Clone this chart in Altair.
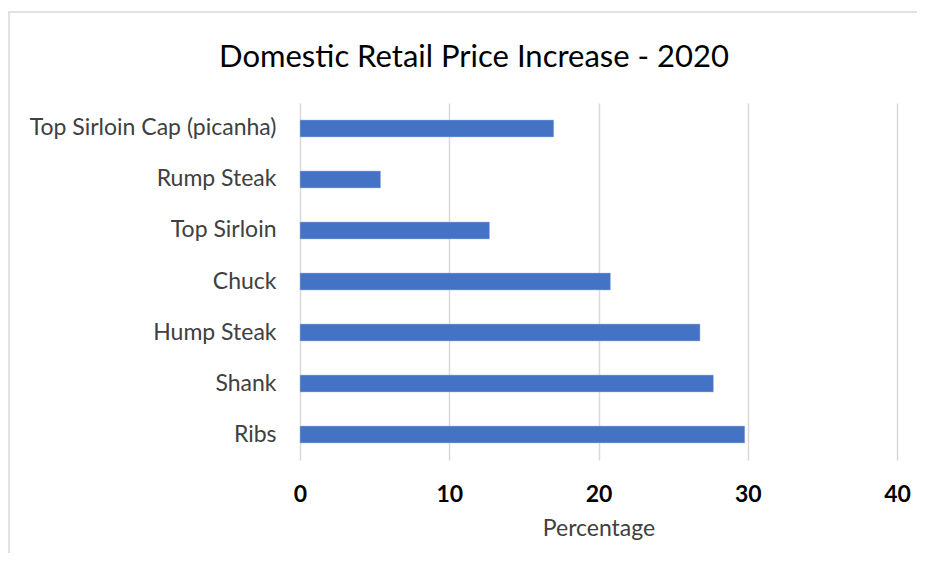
import altair as alt
import pandas as pd

cuts = ["Top Sirloin Cap (picanha)", "Rump Steak", "Top Sirloin", "Chuck",
        "Hump Steak", "Shank", "Ribs"]
increase = [17.0, 5.4, 12.7, 20.8, 26.8, 27.7, 29.8]
x_ticks = [0, 10, 20, 30, 40]
chart_title = "Domestic Retail Price Increase - 2020"

df = pd.DataFrame({"cut": cuts, "pct": increase})
one = pd.DataFrame({"t": [chart_title]})

FONT = "Lato"
TXT = "#404040"

bars = alt.Chart(df).mark_bar(color="#4472C4", stroke="#A9BEE6", strokeWidth=0.5).encode(
    y=alt.Y("cut:N", sort=cuts, title=None,
            scale=alt.Scale(paddingInner=0.667, paddingOuter=0.333),
            axis=alt.Axis(domain=False, ticks=False, grid=False, labelPadding=24,
                          labelFont=FONT, labelFontSize=23, labelColor=TXT,
                          labelLimit=400)),
    x=alt.X("pct:Q", title="Percentage",
            scale=alt.Scale(domain=[0, 40], nice=False),
            axis=alt.Axis(values=x_ticks, domain=False, ticks=False, grid=True,
                          gridColor="#d9d9d9", gridWidth=1.5,
                          labelFlush=False,
                          labelPadding=23, labelFont=FONT, labelFontSize=23,
                          labelFontWeight="bold", labelColor="#000000",
                          titleFont=FONT, titleFontSize=23, titleFontWeight="normal",
                          titleColor=TXT, titlePadding=11)),
)

frame_top = alt.Chart(one).mark_rule(color="#d9d9d9", strokeWidth=1.5).encode(
    x=alt.value(-292), x2=alt.value(617), y=alt.value(-91))
frame_left = alt.Chart(one).mark_rule(color="#d9d9d9", strokeWidth=1.5).encode(
    x=alt.value(-291), y=alt.value(-91), y2=alt.value(450))

title_text = alt.Chart(one).mark_text(font=FONT, fontSize=31, fontWeight="normal",
                                      color="#000000", align="center",
                                      baseline="alphabetic").encode(
    x=alt.value(174), y=alt.value(-36), text="t:N")

chart = alt.layer(frame_top, frame_left, bars, title_text).properties(
    width=597, height=357,
    background="white",
    autosize=alt.AutoSizeParams(type="none"),
    padding={"left": 292, "top": 95, "right": 20, "bottom": 93},
).configure_view(stroke="transparent", strokeWidth=0)

chart.save("out.html", embed_options={"renderer": "svg", "actions": False})
